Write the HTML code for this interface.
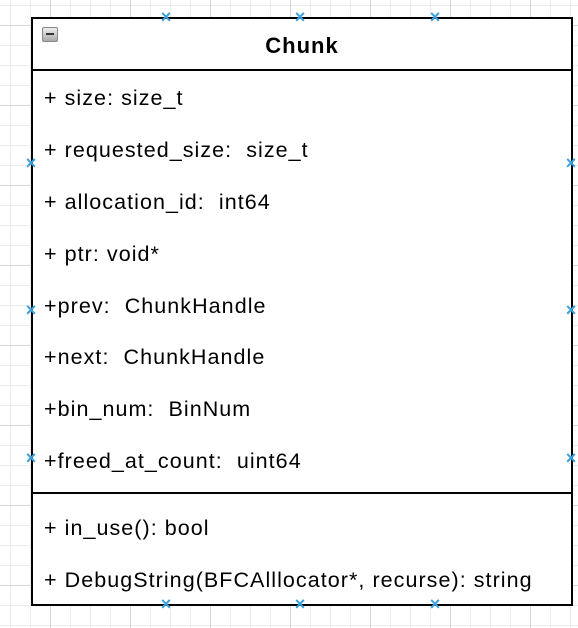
<!DOCTYPE html>
<html><head><style>
html,body{margin:0;padding:0;}
body{width:578px;height:628px;position:relative;overflow:hidden;background:#fff;
background-image:
linear-gradient(to right,#d6d6d6 1px,transparent 1px),
linear-gradient(to bottom,#d6d6d6 1px,transparent 1px),
linear-gradient(to right,#ececec 1px,transparent 1px),
linear-gradient(to bottom,#ececec 1px,transparent 1px);
background-size:80px 80px,80px 80px,20px 20px,20px 20px;
background-position:50px 25px,50px 25px,10px 5px,10px 5px;
font-family:"Liberation Sans",Helvetica,Arial,sans-serif;}
.box{position:absolute;left:31px;top:17px;width:538px;height:585px;border:2px solid #000;background:#fff;}
.hl{position:absolute;left:0;right:0;height:2px;background:#000;}
.t{position:absolute;left:11px;font-size:21.5px;letter-spacing:1.05px;color:#000;white-space:pre;line-height:24px;}
.title{position:absolute;left:0;right:0;top:14px;text-align:center;font-weight:bold;font-size:22px;letter-spacing:1px;}
.icon{position:absolute;left:9px;top:8px;width:14px;height:13px;border:1px solid #888;border-radius:2px;background:linear-gradient(#eee,#aaa);}
.icon:after{content:"";position:absolute;left:3px;top:5px;width:8px;height:2px;background:#333;}
.x{position:absolute;width:12px;height:12px;margin:-6px 0 0 -6px;color:#3aa0dd;font-size:18px;line-height:12px;text-align:center;font-weight:bold;}
</style></head><body>
<div class="box">
<div class="icon"></div>
<div class="title">Chunk</div>
<div class="hl" style="top:50px"></div>
<div class="t" style="top:67px">+ size: size_t</div>
<div class="t" style="top:119px">+ requested_size:  size_t</div>
<div class="t" style="top:171px">+ allocation_id:  int64</div>
<div class="t" style="top:223px">+ ptr: void*</div>
<div class="t" style="top:275px">+prev:  ChunkHandle</div>
<div class="t" style="top:326px">+next:  ChunkHandle</div>
<div class="t" style="top:378px">+bin_num:  BinNum</div>
<div class="t" style="top:430px">+freed_at_count:  uint64</div>
<div class="hl" style="top:473px"></div>
<div class="t" style="top:497px">+ in_use(): bool</div>
<div class="t" style="top:549px">+ DebugString(BFCAlllocator*, recurse): string</div>
</div>
<div class="x" style="left:166px;top:17px">×</div>
<div class="x" style="left:300px;top:17px">×</div>
<div class="x" style="left:435px;top:17px">×</div>
<div class="x" style="left:166px;top:604px">×</div>
<div class="x" style="left:300px;top:604px">×</div>
<div class="x" style="left:435px;top:604px">×</div>
<div class="x" style="left:31px;top:163px">×</div>
<div class="x" style="left:31px;top:310px">×</div>
<div class="x" style="left:31px;top:458px">×</div>
<div class="x" style="left:571px;top:163px">×</div>
<div class="x" style="left:571px;top:310px">×</div>
<div class="x" style="left:571px;top:458px">×</div>
</body></html>
